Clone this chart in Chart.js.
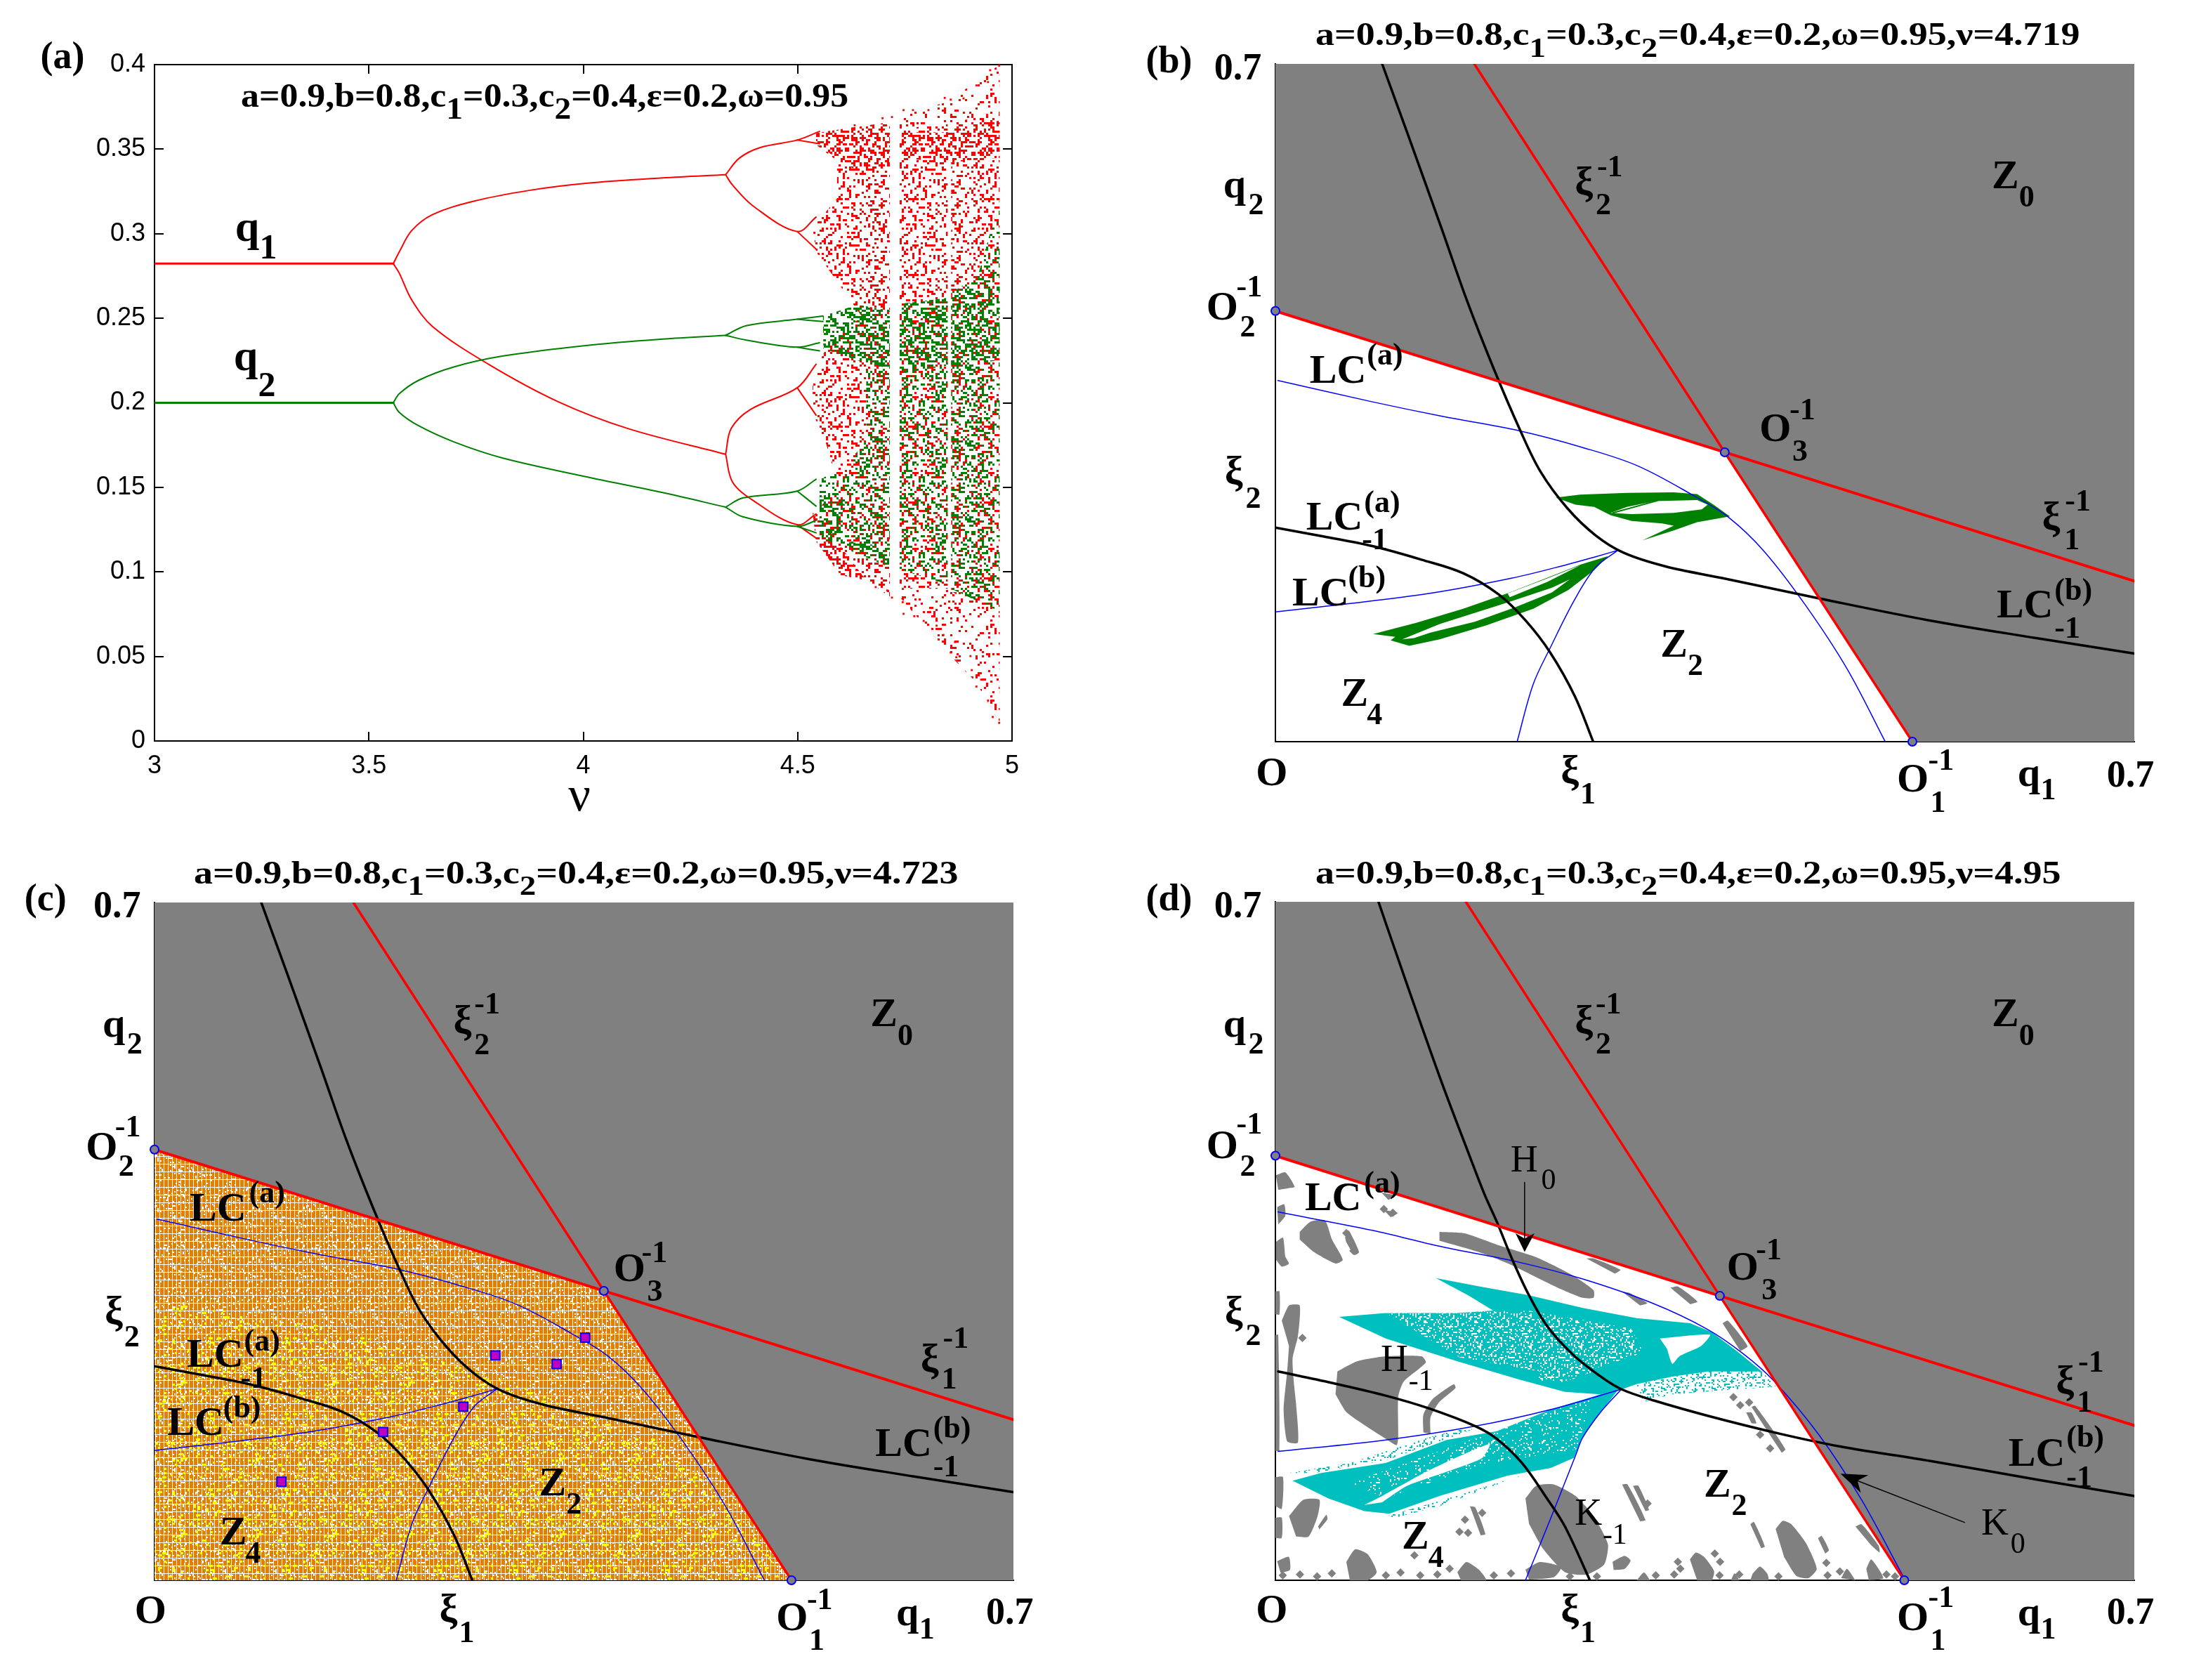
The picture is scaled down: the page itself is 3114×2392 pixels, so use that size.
<!DOCTYPE html>
<html lang="en">
<head>
<meta charset="UTF-8">
<title>Bifurcation diagram and critical curves</title>
<script src="https://cdn.jsdelivr.net/npm/chart.js@4.4.1/dist/chart.umd.min.js"></script>
<style>
  html, body { margin: 0; background: #fff; }
  #page { position: relative; width: 3114px; height: 2392px; overflow: hidden; background: #fff; }
  canvas { position: absolute; }
  .t { position: absolute; white-space: nowrap; font-family: "Liberation Serif", serif; font-weight: bold; line-height: 1; color: #000; transform-origin: left center; }
  .n { font-weight: normal; }
</style>
</head>
<body>
<div id="page">
  <canvas id="panelA" width="1557" height="1196" style="left:0;top:0"></canvas>
  <canvas id="panelB" width="1557" height="1196" style="left:1557px;top:0"></canvas>
  <canvas id="panelC" width="1557" height="1196" style="left:0;top:1196px"></canvas>
  <canvas id="panelD" width="1557" height="1196" style="left:1557px;top:1196px"></canvas>
</div>
<script>
// ---- panel (a): ticks
const xTicksA = [3, 3.5, 4, 4.5, 5];
const yTicksA = [0, 0.05, 0.1, 0.15, 0.2, 0.25, 0.3, 0.35, 0.4];

// ---- panel (a): branches of the diagram, [nu, value]
const q1Stem = [[3,.2823],[3.557,.2823]];
const q1Upper = [[3.557,.2823],[3.571,.2893],[3.6,.3019],[3.649,.3114],[3.746,.3193],[3.876,.3257],[4.006,.3298],[4.185,.333],[4.332,.3349]];
const q1Lower = [[3.557,.2823],[3.571,.2766],[3.6,.2608],[3.649,.245],[3.779,.2228],[3.941,.2007],[4.104,.1848],[4.332,.1696]];
const q1Split = [
  [[4.332,.3349],[4.364,.3447],[4.413,.351],[4.499,.3554],[4.551,.3605]],
  [[4.499,.3554],[4.551,.3532]],
  [[4.332,.3349],[4.348,.3288],[4.397,.3162],[4.499,.3013],[4.543,.3098]],
  [[4.499,.3013],[4.543,.2909]],
  [[4.332,.1696],[4.345,.1848],[4.389,.1959],[4.499,.2089],[4.543,.2228]],
  [[4.499,.2089],[4.543,.1927]],
  [[4.332,.1696],[4.348,.1532],[4.397,.1421],[4.499,.1279],[4.543,.1342]],
  [[4.499,.1279],[4.543,.12]]
];
const q2Stem = [[3,.2],[3.557,.2]];
const q2Upper = [[3.557,.2],[3.571,.2054],[3.616,.2133],[3.698,.2212],[3.811,.2276],[4.006,.2339],[4.185,.2377],[4.332,.2399]];
const q2Lower = [[3.557,.2],[3.571,.1943],[3.616,.1864],[3.698,.1769],[3.811,.1674],[4.006,.1563],[4.185,.1469],[4.332,.1383]];
const q2Split = [
  [[4.332,.2399],[4.38,.2456],[4.499,.2494],[4.559,.2513]],
  [[4.499,.2494],[4.559,.2481]],
  [[4.332,.2399],[4.38,.2371],[4.499,.2329],[4.551,.2355]],
  [[4.499,.2329],[4.551,.2307]],
  [[4.332,.1383],[4.372,.1437],[4.499,.1478],[4.543,.1548]],
  [[4.499,.1478],[4.543,.1389]],
  [[4.332,.1383],[4.372,.1326],[4.499,.1269],[4.543,.1304]],
  [[4.499,.1269],[4.543,.1231]]
];

// ---- panel (a): outlines of the chaotic bands
const redBandA = [[4.543,.3595],[4.624,.3627],[4.715,.3659],[4.715,.0851],[4.624,.1025],[4.543,.12],[4.543,.1342],[4.592,.1532],[4.567,.1753],[4.535,.1943],[4.535,.2165],[4.567,.2323],[4.649,.2513],[4.543,.2893],[4.535,.3035],[4.592,.3209],[4.592,.3431],[4.543,.3526]];
const redBandB = [[4.738,.37],[4.82,.3731],[4.85,.378],[4.85,.054],[4.82,.0614],[4.738,.0851]];
const redBandC = [[4.858,.379],[4.917,.3842],[4.971,.4],[4.971,.0108],[4.917,.0345],[4.858,.05]];
const redDense = [
  [[4.543,.3595],[4.624,.3627],[4.715,.36],[4.715,.3395],[4.65,.335],[4.592,.345],[4.543,.3526]],
  [[4.738,.36],[4.85,.36],[4.971,.367],[4.971,.345],[4.85,.342],[4.738,.345]],
  [[4.535,.135],[4.56,.13],[4.6,.115],[4.66,.095],[4.6,.098],[4.543,.118]]
];
const redTails = [
  [[4.738,.09],[4.85,.09],[4.971,.07],[4.971,.0108],[4.917,.0345],[4.82,.0614],[4.738,.0851]],
  [[4.738,.37],[4.85,.378],[4.971,.4],[4.971,.372],[4.85,.365],[4.738,.362]]
];
const redStrays = [[4.682,.091],[4.709,.089],[4.72,.0848],[4.745,.0821],[4.747,.0752],[4.772,.0738],[4.794,.071],[4.824,.0682],[4.84,.0627],[4.857,.0523],[4.87,.0495],[4.903,.0502],[4.917,.0322],[4.928,.0363],[4.944,.0239],[4.955,.0142],[4.97,.0107],[4.906,.0419],[4.867,.0585],[4.824,.0724],[4.843,.3803],[4.857,.3793],[4.887,.38],[4.917,.3877],[4.944,.3897],[4.949,.3967],[4.97,.3994],[4.805,.3731],[4.747,.3731],[4.769,.3731],[4.698,.3683],[4.72,.369],[4.633,.3641]];
const greenBandA = [[4.66,.22],[4.715,.22],[4.715,.1027],[4.551,.121],[4.551,.155],[4.605,.16],[4.66,.178]];
const greenBandB = [[4.738,.2585],[4.85,.262],[4.85,.0925],[4.738,.1015]];
const greenBandC = [[4.858,.265],[4.92,.275],[4.971,.32],[4.971,.0765],[4.858,.09]];
const greenDense = [
  [[4.559,.2513],[4.64,.258],[4.715,.2545],[4.715,.22],[4.64,.225],[4.56,.232]],
  [[4.738,.2585],[4.85,.262],[4.85,.222],[4.738,.217]],
  [[4.858,.263],[4.971,.27],[4.971,.225],[4.858,.222]],
  [[4.551,.145],[4.61,.14],[4.61,.118],[4.715,.115],[4.715,.1027],[4.6,.115],[4.551,.121]]
];

// ---- panels (b) and (c): critical curves, [q1, q2]
const zoneOuterB = [[0,.4448],[.3662,.2989],[.5191,0],[.7,0],[.7,.7],[0,.7]];
const zoneInnerB = [[0,0],[0,.4448],[.3662,.2989],[.5191,0]];
const xi1InvB = [[0,.4448],[.3662,.2989],[.7,.1658]];
const xi2InvB = [[.1621,.7],[.3662,.2989],[.5191,0]];
const lcm1UpperB = [[.087,.7],[.108,.627],[.136,.528],[.156,.456],[.178,.385],[.199,.323],[.216,.279],[.238,.241],[.261,.213],[.284,.195],[.318,.181],[.364,.169],[.443,.148],[.534,.125],[.62,.107],[.7,.091]];
const lcm1LowerB = [[0,.221],[.039,.212],[.079,.202],[.119,.188],[.153,.174],[.182,.152],[.204,.125],[.224,.092],[.244,.047],[.259,0]];
const lcaB = [[.002,.373],[.079,.351],[.136,.336],[.199,.321],[.25,.304],[.295,.285],[.341,.254],[.369,.232],[.398,.197],[.432,.141],[.466,.075],[.497,0]];
const lcbLeftB = [[0,.134],[.056,.142],[.125,.153],[.193,.169],[.238,.183],[.261,.191],[.2792,.1977]];
const lcbRightB = [[.2792,.1977],[.261,.18],[.244,.147],[.224,.097],[.21,.059],[.197,0]];
const corners = [[0,.4448],[.3662,.2989],[.5191,0]];

const attractorUpperB = [[.2283,.252],[.2483,.2552],[.2865,.2569],[.3246,.2576],[.3437,.2557],[.357,.2448],[.3704,.2327],[.3437,.2267],[.3246,.2182],[.2989,.2078],[.3246,.223],[.3151,.2255],[.2903,.2279],[.2731,.2339],[.2598,.2424],[.2445,.2448]];
const attractorUpperHoleB = [[.2731,.2363],[.2865,.2424],[.3094,.2484],[.3437,.2496],[.3523,.2448],[.3475,.24],[.3246,.2363],[.2903,.2351]];
const attractorUpperStrandB = [[.275,.2363],[.3113,.2489]];
const attractorLowerB = [[.0796,.1111],[.1148,.1227],[.153,.1373],[.1911,.1542],[.2493,.1832],[.2712,.1916],[.2598,.1771],[.2388,.1566],[.2102,.1373],[.1721,.1203],[.1339,.1058],[.1091,.099],[.0939,.1046],[.0977,.1082]];
const attractorLowerHolesB = [
  [[.1034,.1058],[.1339,.1215],[.1911,.1445],[.2254,.159],[.2398,.1675],[.2254,.1542],[.1949,.1385],[.1625,.1239],[.1263,.1126],[.113,.107]],
  [[.1892,.153],[.2216,.1687],[.2483,.182],[.2216,.1651],[.1911,.1493]]
];

// ---- panel (c): cycle points and the yellow part of the basin
const cyclePointsC = [[.1034,.1018],[.1863,.1532],[.2516,.1792],[.2778,.2323],[.3277,.2234],[.351,.2505]];
const yellowZoneC = [[0,.29],[.15,.26],[.3,.2],[.42,.14],[.5,.03],[.51,0],[0,0]];

// ---- panel (d): critical curves
const zoneOuterD = [[0,.438],[.3622,.2934],[.5125,0],[.7,0],[.7,.7],[0,.7]];
const xi1InvD = [[0,.438],[.3622,.2934],[.7,.1597]];
const xi2InvD = [[.1552,.7],[.3622,.2934],[.5125,0]];
const lcm1UpperD = [[.084,.7],[.108,.612],[.136,.512],[.1576,.44],[.1702,.3988],[.1804,.37],[.1936,.3294],[.2067,.294],[.2213,.2626],[.2417,.2337],[.2651,.2102],[.282,.1971],[.3089,.1853],[.3527,.1696],[.4111,.1512],[.4602,.1381],[.534,.123],[.62,.104],[.7,.087]];
const lcm1LowerD = [[.0023,.2154],[.0461,.2036],[.0899,.1905],[.1249,.1774],[.1629,.159],[.1804,.146],[.2009,.1211],[.2213,.0844],[.2359,.0556],[.2563,0]];
const lcaD = [[.002,.38],[.079,.361],[.136,.344],[.199,.328],[.25,.311],[.307,.286],[.352,.259],[.381,.234],[.406,.206],[.443,.15],[.477,.0845],[.5125,.002]];
const lcbLeftD = [[.0023,.1329],[.0899,.1447],[.1629,.159],[.2242,.1761],[.282,.1971]];
const lcbRightD = [[.282,.1971],[.2651,.1735],[.2505,.1473],[.2447,.129],[.2242,.0634],[.2038,0]];
const cornersD = [[0,.438],[.3622,.2934],[.5125,0]];

// ---- panel (d): attractor wings
const wingUpperD = [[.1308,.3118],[.1658,.3032],[.2067,.294],[.2505,.2809],[.2943,.2704],[.3381,.2652],[.3556,.256],[.3761,.2364],[.3965,.2154],[.379,.2154],[.3527,.2154],[.3235,.2102],[.2943,.2023],[.2826,.1971],[.2651,.1918],[.2359,.1944],[.1979,.2075],[.1483,.2259],[.0899,.2495],[.0519,.2717],[.0899,.2757],[.1483,.2757],[.1775,.2783],[.1571,.294]];
const wingUpperNotchD = [[.3133,.2495],[.3542,.2534],[.3469,.2416],[.3293,.2311],[.3235,.2233],[.3191,.239]];
const wingUpperSliverD = [[.2125,.2102],[.2242,.2206],[.2447,.2285],[.2593,.2154],[.2534,.2128],[.2359,.2049],[.2184,.2049]];
const wingSpeckD = [[.0899,.2757],[.2067,.278],[.29,.26],[.3,.235],[.24,.21],[.15,.23]];
const wingSprayD = [[.2943,.2023],[.3235,.2154],[.3819,.2167],[.3965,.2154],[.4082,.1997],[.3761,.1971],[.3235,.1918],[.3001,.184]];
const wingLowerD = [[.014,.1027],[.0373,.1106],[.0899,.1211],[.1395,.1447],[.1804,.1538],[.2242,.176],[.2651,.1918],[.2797,.1971],[.2651,.1735],[.2505,.1473],[.2432,.1263],[.2242,.1158],[.2067,.1119],[.1892,.108],[.1337,.087],[.0928,.0687],[.0724,.0713],[.0432,.0844]];
const wingLowerSlitD = [[.0724,.0778],[.087,.087],[.1249,.1132],[.1746,.1407],[.1687,.1263],[.1483,.1158],[.1074,.0975],[.087,.0805]];
const wingLowerSprayD = [[.0111,.1106],[.0607,.121],[.1249,.1473],[.16,.159],[.16,.155],[.0899,.1237],[.0315,.1106]];
const wingLowerSpray2D = [[.09,.066],[.1337,.0818],[.2067,.1106],[.1921,.1041],[.1337,.0765],[.0987,.0648]];
const wingLowerSpeckD = [[.06,.1],[.17,.15],[.26,.19],[.245,.135],[.17,.12],[.09,.085]];

// ---- panel (d): gray holes of the basin
const holesD = [
  [[.1337,.3595],[.1541,.358],[.1833,.3451],[.2125,.3333],[.2417,.315],[.2593,.2992],[.2593,.2914],[.2505,.2914],[.2301,.3019],[.1921,.3254],[.1658,.3385],[.1337,.3503]],
  [[.0505,.2154],[.0665,.2259],[.0899,.2311],[.1191,.2311],[.1226,.2246],[.1045,.2049],[.1001,.1892],[.1001,.1473],[.0987,.1394],[.0899,.146],[.0753,.1578],[.0578,.1735],[.049,.1918]],
  [[.2038,.0844],[.2125,.0975],[.2271,.0988],[.2447,.087],[.2593,.0661],[.271,.0372],[.268,.0163],[.2534,.0058],[.2359,.0084],[.2184,.032],[.2067,.0582]],
  [[.0198,.3595],[.0286,.37],[.0403,.3713],[.0461,.3516],[.0549,.3307],[.049,.3268],[.0315,.3385],[.0198,.3516]],
  [[.0052,.2678],[.0111,.2835],[.0198,.2835],[.0184,.2521],[.014,.2285],[.0154,.1997],[.0169,.1813],[.0184,.142],[.0096,.1433],[.0067,.1761],[.0096,.2154],[.0111,.2416]],
  [[.1206,.1525],[.1206,.1709],[.1279,.1866],[.1454,.2023],[.1468,.1984],[.1337,.184],[.1264,.1682],[.1264,.1512]],
  [[.0111,.0661],[.0227,.083],[.0359,.083],[.0344,.0661],[.0271,.0451],[.0169,.0451]],
  [[.0578,.0189],[.0651,.032],[.0753,.0268],[.0826,.0084],[.0753,0],[.0607,0]],
  [[.1483,.0084],[.1556,.0189],[.1658,.011],[.1717,0],[.1512,0]],
  [[.1585,.0765],[.1629,.0752],[.1711,.0477],[.1673,.0464]],
  [[.2826,.0988],[.287,.0988],[.3016,.0621],[.2972,.0608]],
  [[.2914,.0975],[.2958,.0975],[.3045,.0726],[.3016,.0713]],
  [[.2038,.011],[.2155,.0189],[.233,.0137],[.2271,.0032],[.2067,.0006]],
  [[.388,.1788],[.391,.18],[.4156,.1352],[.4127,.1316]],
  [[.4077,.0529],[.4136,.0614],[.4205,.0578],[.4324,.0384],[.4412,.0118],[.4343,.0021],[.4245,.0046],[.4146,.0239]],
  [[.3378,.0215],[.3427,.0287],[.3496,.0239],[.3575,.0094],[.3555,0],[.3437,0]],
  [[.3871,.0578],[.39,.0602],[.3989,.0348],[.3959,.0331]],
  [[.4727,.0554],[.4777,.0578],[.4915,.036],[.4924,.0287],[.4856,.036]],
  [[.4422,.0433],[.4452,.0457],[.4511,.0312],[.4481,.0275]],
  [[.461,.0021],[.4658,.0118],[.4727,0]],
  [[.4816,.0118],[.4856,.0215],[.4954,.0021],[.4836,0]],
  [[.389,.007],[.3949,.0142],[.4008,.007],[.4018,0],[.387,0]],
  [[.2748,.0191],[.2846,.0251],[.2895,.0203],[.2846,.0118],[.2757,.0106]],
  [[.2945,0],[.3004,.0082],[.3053,0]],
  [[.3713,0],[.3742,.007],[.3782,0]],
  [[.2534,.332],[.2593,.332],[.2812,.3202],[.2768,.3163]],
  [[.322,.3019],[.3279,.3032],[.3439,.2875],[.3381,.2848]],
  [[.2826,.2979],[.2885,.2966],[.3031,.2861],[.2972,.2835]],
  [[.3644,.2652],[.3688,.2678],[.3848,.2416],[.379,.2364]],
  [[.0004,.4179],[.0081,.4209],[.0157,.4059],[.01,.4044],[.0023,.4029]],
  [[.0014,.385],[.0071,.388],[.0081,.376],[.0023,.367]],
  [[.0004,.349],[.0062,.3535],[.0081,.334],[.011,.3266],[.0052,.3236],[.0004,.331]],
  [[.0568,.3535],[.0596,.361],[.0682,.3385],[.0644,.3355],[.0577,.349]],
  [[.0883,.382],[.0997,.379],[.094,.3745]],
  [[.0864,.4],[.0978,.397],[.0921,.3924]],
  [[0,.2532],[.0023,.2532],[.0033,.1335],[0,.1335]],
  [[0,.2981],[.0033,.2981],[.0033,.2742],[0,.2742]],
  [[0,.1065],[.0062,.1065],[.0052,.0736],[0,.0766]],
  [[0,.0646],[.0052,.0646],[.0052,.0436],[0,.0436]],
  [[.0014,.0197],[.0109,.0242],[.0119,.0107],[.0042,.0077]],
  [[.0348,.0556],[.0415,.0676],[.0424,.0631],[.0358,.0526]],
  [[.3837,.173],[.388,.173],[.392,.162],[.388,.162]]
];
const holeDotsD = [
  [.006,.005],[.02,.006],[.034,.004],[.046,.007],[.09,.005],[.102,.008],[.118,.005],[.132,.006],[.142,.012],[.178,.005],[.192,.007],[.24,.004],[.262,.004],[.31,.005],[.325,.006],[.362,.005],[.378,.006],[.41,.004],[.45,.005],[.46,.009],[.498,.006],[.505,.004],
  [.1133,.0257],[.3733,.189],[.3788,.1807],[.3861,.1836],[.395,.1502],[.4032,.136],[.3033,.0791],[.3581,.0275],[.3624,.0191],[.328,.0191],[.33,.012],[.449,.018],[.0884,.383],[.0957,.3792],[.0578,.3582],[.0636,.3398],[.022,.25],[.1685,.0695],[.1545,.0625],[.157,.049],[.15,.05]
];

// ---- panel (d): arrows
const arrowH0Line = [[.2031,.4105],[.2031,.35]];
const arrowH0Head = [[.2031,.3387],[.1957,.358],[.2031,.3525],[.2111,.358]];
const arrowK0Line = [[.5616,.0597],[.4743,.1027]];
const arrowK0Head = [[.4605,.1099],[.4833,.1085],[.4743,.1027],[.4771,.0903]];

// ---- speckle tile, one character per cell
const speckleRows = [
  "x..x....x.x...x..xx...x....x..x...x.",
  "..xx..x.....x....x..x....xx.....x...",
  "x.....xx..x...xx.....x.x.....x.....x",
  ".x..x......x.....x.x.....x..xx..x...",
  "....xx.x.....xx.....xx.....x.....xx.",
  "x.........x.x....x.....x.x....x.....",
  "..x.x..xx.....x.....x......x....x.x.",
  ".x.....x...x.....xx...x.x.....x.....",
  "...xx.....x..x.x.....x.....xx....x..",
  "x.......x.....x...x....xx.......x..x",
  "..x..xx....x.....x..x......x.x......",
  ".....x..x.....xx.........x....x..xx.",
  ".xx.......x.x.....x.xx.....x.....x..",
  "....x.x.......x.x.......x.....xx....",
  "x.......xx..x......x..x...x.x.....x.",
  "...x.x.....x...xx.....x........x....",
  ".x......x.....x.....x...xx..x....x.x",
  "...xx.....xx.....x.x.......x..x.....",
  "x.....x.x....x.........x.x......xx..",
  "..x.......x....x.xx.....x...x.......",
  ".....xx.x....x.......x.....x...x..x.",
  ".x.x........x...x.x....xx.......x...",
  "......x..xx....x....x.......xx.....x",
  "x..x.....x...x.....x...x.x......x...",
  "....x.xx.......xx.....x.....x.x.....",
  ".x........x.x.......x....xx.....xx..",
  "...xx..x......x..x....x......x.....x",
  "x.......x..xx.....x......x.x....x...",
  "..x..x.......x.x.....xx.......x...x.",
  ".....x.xx........x.x.....x.x.....x..",
  ".xx.......x.x.x.......x.......xx....",
  "....x.x.......x..xx.....x.x.......x.",
  "x.......xx.x.......x.x.......x.x....",
  "..x.x........xx.......x..xx.......x.",
  ".....x.x..x......x.x........x.x.....",
  ".x.......x...x.x......xx.x.......x.x"
];
</script>
<script>
const page = document.getElementById('page');

// rows and columns are stepped through out of order so the tile doesn't show diagonals;
// a second stepping keeps two colours from landing on the same cells
function makeSpeckle(color, mode, cell, alt) {
  const n = speckleRows.length;
  const rowStep = alt ? 11 : 5, colStep = alt ? 13 : 7;
  const on = (i, j) => speckleRows[(j * rowStep) % n][(i * colStep) % n] === 'x';
  const tile = document.createElement('canvas');
  tile.width = tile.height = n * cell;
  const c = tile.getContext('2d');
  c.fillStyle = color;
  for (let j = 0; j < n; j++) {
    for (let i = 0; i < n; i++) {
      const a = on(i, j), b = on(n - 1 - i, n - 1 - j);
      if (mode === 'dense' ? (a || b) : mode === 'thin' ? (a && (b || on(j, i))) : a) {
        c.fillRect(i * cell, j * cell, cell, cell);
      }
    }
  }
  return c.createPattern(tile, 'repeat');
}

function makeHatch() {
  const tile = document.createElement('canvas');
  tile.width = 6; tile.height = 11;
  const c = tile.getContext('2d');
  c.fillStyle = '#fff';
  c.fillRect(0, 0, 6, 11);
  c.fillStyle = '#df8000';
  c.fillRect(0, 0, 5, 10);
  return c.createPattern(tile, 'repeat');
}

const toPts = arr => arr.map(p => ({x: p[0], y: p[1]}));
const poly = (arr, color, tension) => ({data: toPts(arr), showLine: true, fill: 'shape', backgroundColor: color, borderWidth: 0, pointRadius: 0, tension: tension || 0});
const line = (arr, color, width, tension) => ({data: toPts(arr), showLine: true, fill: false, borderColor: color, borderWidth: width, pointRadius: 0, tension: tension === undefined ? 0.35 : tension, borderCapStyle: 'round', borderJoinStyle: 'round'});
const marks = (arr, style, radius, fillCol, edge, edgeWidth) => ({data: toPts(arr), showLine: false, pointStyle: style, pointRadius: radius, backgroundColor: fillCol, borderColor: edge, borderWidth: edgeWidth, clip: false});

// later entries are drawn on top
function stack(list) {
  list.forEach((d, i) => { d.order = list.length - i; });
  return list;
}

function makeChart(id, area, datasets, scales) {
  const W = 1557, H = 1196;
  Object.values(scales).forEach(s => {
    const side = s.position;
    if (side === 'left') s.afterFit = a => { a.width = area.left; };
    if (side === 'bottom') s.afterFit = a => { a.height = H - area.bottom; };
    if (side === 'top' || side === 'right') s.afterFit = a => { if (side === 'top') a.height = 0; else a.width = 0; };
  });
  return new Chart(document.getElementById(id), {
    type: 'scatter',
    data: {datasets: stack(datasets)},
    options: {
      responsive: false,
      animation: false,
      events: [],
      layout: {padding: {left: 0, bottom: 0, top: area.top, right: W - area.right}},
      plugins: {legend: {display: false}, tooltip: {enabled: false}},
      scales
    }
  });
}

function plainScale(position) {
  return {type: 'linear', position, min: 0, max: 0.7, ticks: {display: false}, grid: {display: false}, border: {display: true, color: '#000', width: 2}};
}

const tickFont = {family: '"Liberation Sans", Arial, sans-serif', size: 36};
function tickScale(position, min, max, values, labelled, pad) {
  return {
    type: 'linear', position, min, max,
    afterBuildTicks: s => { s.ticks = values.map(v => ({value: v})); },
    ticks: {display: labelled, autoSkip: false, maxRotation: 0, color: '#000', font: tickFont, padding: pad, callback: v => String(v)},
    grid: {drawOnChartArea: false, drawTicks: true, tickLength: -13, lineWidth: 2, color: '#000'},
    border: {display: true, color: '#000', width: 2}
  };
}

// ---- panel (a)
const redS = makeSpeckle('#ff0000', 'normal', 3), redD = makeSpeckle('#ff0000', 'dense', 3), redT = makeSpeckle('#ff0000', 'thin', 3);
const greenS = makeSpeckle('#008000', 'normal', 3, true), greenD = makeSpeckle('#008000', 'dense', 3, true);
const red = '#ff0000', green = '#008000';
makeChart('panelA', {left: 220, right: 1441, top: 92, bottom: 1055}, [
  poly(redBandA, redS), poly(redBandB, redS), poly(redBandC, redS),
  ...redDense.map(b => poly(b, redD)),
  ...redTails.map(b => poly(b, '#fff')),
  ...redTails.map(b => poly(b, redT)),
  marks(redStrays, 'rect', 2, red, red, 0),
  line(q1Stem, red, 3, 0), line(q1Upper, red, 2), line(q1Lower, red, 2),
  ...q1Split.map(b => line(b, red, 2)),
  poly(greenBandA, greenS), poly(greenBandB, greenS), poly(greenBandC, greenS),
  ...greenDense.map(b => poly(b, greenD)),
  line(q2Stem, green, 3, 0), line(q2Upper, green, 2), line(q2Lower, green, 2),
  ...q2Split.map(b => line(b, green, 2))
], {
  x: tickScale('bottom', 3, 5, xTicksA, true, 27),
  y: tickScale('left', 0, 0.4, yTicksA, true, 26),
  x2: tickScale('top', 3, 5, xTicksA, false, 0),
  y2: tickScale('right', 0, 0.4, yTicksA, false, 0)
});

// ---- panels (b), (c), (d)
const gray = '#808080', blue = '#0000ff', cyan = '#00bfbf';
function curveSet(xi1, xi2, upper, lower, lca, lcbL, lcbR) {
  return [
    line(lca, blue, 1.5), line(lcbL, blue, 1.5), line(lcbR, blue, 1.5),
    line(upper, '#000', 3.5), line(lower, '#000', 3.5),
    line(xi2, red, 3.5, 0), line(xi1, red, 4, 0)
  ];
}

makeChart('panelB', {left: 259, right: 1482, top: 91, bottom: 1056}, [
  poly(zoneOuterB, gray),
  poly(attractorUpperB, green), poly(attractorUpperHoleB, '#fff'), line(attractorUpperStrandB, green, 2, 0),
  poly(attractorLowerB, green), ...attractorLowerHolesB.map(h => poly(h, '#fff')),
  ...curveSet(xi1InvB, xi2InvB, lcm1UpperB, lcm1LowerB, lcaB, lcbLeftB, lcbRightB),
  marks(corners, 'circle', 6, gray, blue, 2)
], {x: plainScale('bottom'), y: plainScale('left')});

makeChart('panelC', {left: 220, right: 1443, top: 89, bottom: 1054}, [
  poly(zoneOuterB, gray),
  poly(zoneInnerB, makeHatch()),
  poly(zoneInnerB, makeSpeckle('#ffffff', 'thin', 2)),
  poly(yellowZoneC, makeSpeckle('#ffff00', 'thin', 3, true)),
  ...curveSet(xi1InvB, xi2InvB, lcm1UpperB, lcm1LowerB, lcaB, lcbLeftB, lcbRightB),
  marks(cyclePointsC, 'rect', 9, '#bf00bf', blue, 2),
  marks(corners, 'circle', 6, gray, blue, 2)
], {x: plainScale('bottom'), y: plainScale('left')});

const cyanS = makeSpeckle(cyan, 'normal', 2);
const whiteS = makeSpeckle('#ffffff', 'normal', 2);
const whiteT = makeSpeckle('#ffffff', 'thin', 2);
makeChart('panelD', {left: 259, right: 1482, top: 88, bottom: 1054}, [
  poly(zoneOuterD, gray),
  ...holesD.map(h => poly(h, gray, 0.2)),
  marks(holeDotsD, 'rectRot', 6, gray, gray, 0),
  poly(wingSprayD, cyanS), poly(wingLowerSprayD, cyanS), poly(wingLowerSpray2D, cyanS),
  poly(wingUpperD, cyan), poly(wingLowerD, cyan),
  poly(wingSpeckD, whiteS), poly(wingLowerSpeckD, whiteT),
  poly(wingUpperNotchD, '#fff', 0.2), poly(wingUpperSliverD, whiteS, 0.2), poly(wingLowerSlitD, '#fff', 0.2),
  ...curveSet(xi1InvD, xi2InvD, lcm1UpperD, lcm1LowerD, lcaD, lcbLeftD, lcbRightD),
  line(arrowH0Line, '#000', 1.5, 0), poly(arrowH0Head, '#000'),
  line(arrowK0Line, '#000', 1.5, 0), poly(arrowK0Head, '#000'),
  marks(cornersD, 'circle', 6, gray, blue, 2)
], {x: plainScale('bottom'), y: plainScale('left')});

// ---- text: the zoom coordinates of each panel go through its origin
const FX = 0.993, FY = 0.7618;
function text(ox, oy, zx, zy, str, size, normal) {
  const el = document.createElement('span');
  el.className = normal ? 't n' : 't';
  el.textContent = str;
  el.style.fontSize = size + 'px';
  el.style.left = (ox + zx * FX) + 'px';
  el.style.top = (oy + zy * FY - 0.8375 * size) + 'px';
  page.appendChild(el);
  return el;
}
// [base, x, y, sub, subx, suby, sup, supx, supy]
function mathLabels(ox, oy, list, size, subSize, normal) {
  list.forEach(l => {
    text(ox, oy, l[1], l[2], l[0], size, normal);
    if (l[3]) text(ox, oy, l[4], l[5], l[3], subSize, normal);
    if (l[6]) text(ox, oy, l[7], l[8], l[6], subSize, normal);
  });
}
function heading(ox, oy, zx, zy, size, subSize, stretch, parts) {
  const el = text(ox, oy, zx, zy, '', size);
  el.style.transform = 'scaleX(' + stretch + ')';
  parts.forEach(p => {
    if (p[0] === '_') {
      const s = document.createElement('span');
      s.textContent = p.slice(1);
      s.style.cssText = 'font-size:' + subSize + 'px;position:relative;top:' + (0.36 * size) + 'px';
      el.appendChild(s);
    } else {
      el.appendChild(document.createTextNode(p));
    }
  });
  return el;
}
const headParts = ['a=0.9,b=0.8,c', '_1', '=0.3,c', '_2', '=0.4,ε=0.2,ω=0.95'];

// (a)
text(0, 0, 58, 128, '(a)', 54);
heading(0, 0, 345, 200, 48, 44, 1.08, headParts);
mathLabels(0, 0, [['q', 337, 450, '1', 372, 483], ['q', 335, 692, '2', 370, 740]], 62, 50);
text(0, 0, 815, 1515, 'ν', 70, true);

// (b)
mathLabels(1557, 0, [
  ['q', 186, 370, '2', 222, 402], ['O', 162, 598, '2', 210, 630, '-1', 205, 555],
  ['LC', 310, 716, '', 0, 0, '(a)', 392, 682], ['ξ', 188, 905, '2', 218, 950],
  ['LC', 305, 990, '-1', 385, 1028, '(a)', 388, 958], ['LC', 285, 1132, '', 0, 0, '(b)', 365, 1098],
  ['Z', 355, 1320, '4', 392, 1355], ['Z', 813, 1228, '2', 852, 1263], ['Z', 1288, 352, '0', 1327, 387],
  ['ξ', 690, 365, '2', 720, 402, '-1', 722, 330], ['O', 955, 825, '3', 1002, 862, '-1', 998, 785],
  ['ξ', 1360, 990, '1', 1392, 1027, '-1', 1393, 955], ['LC', 1295, 1155, '-1', 1378, 1193, '(b)', 1378, 1122],
  ['O', 233, 1468], ['ξ', 670, 1465, '1', 698, 1503], ['O', 1152, 1480, '1', 1200, 1518, '-1', 1197, 1440],
  ['q', 1325, 1470, '1', 1358, 1495]
], 58, 44);
text(1557, 0, 75, 135, '(b)', 54);
text(1557, 0, 173, 148, '0.7', 54);
text(1557, 0, 1453, 1470, '0.7', 54);
heading(1557, 0, 318, 85, 46, 40, 1.174, ['a=0.9,b=0.8,c', '_1', '=0.3,c', '_2', '=0.4,ε=0.2,ω=0.95,ν=4.719']);

// (c)
mathLabels(0, 1196, [
  ['q', 147, 368, '2', 182, 400], ['O', 123, 598, '2', 170, 628, '-1', 165, 555],
  ['LC', 272, 712, '', 0, 0, '(a)', 357, 678], ['ξ', 150, 905, '2', 178, 948],
  ['LC', 268, 985, '-1', 345, 1025, '(a)', 350, 955], ['LC', 240, 1113, '', 0, 0, '(b)', 320, 1080],
  ['Z', 315, 1318, '4', 352, 1352], ['Z', 773, 1225, '2', 812, 1260], ['Z', 1248, 348, '0', 1287, 385],
  ['ξ', 650, 362, '2', 680, 402, '-1', 680, 325], ['O', 880, 825, '3', 928, 862, '-1', 920, 790],
  ['ξ', 1320, 995, '1', 1350, 1026, '-1', 1352, 950], ['LC', 1255, 1152, '-1', 1338, 1190, '(b)', 1338, 1118],
  ['O', 193, 1465], ['ξ', 630, 1462, '1', 658, 1500], ['O', 1113, 1478, '1', 1160, 1515, '-1', 1157, 1438],
  ['q', 1285, 1468, '1', 1318, 1493]
], 58, 44);
text(0, 1196, 35, 132, '(c)', 54);
text(0, 1196, 134, 145, '0.7', 54);
text(0, 1196, 1414, 1465, '0.7', 54);
heading(0, 1196, 278, 82, 46, 40, 1.174, ['a=0.9,b=0.8,c', '_1', '=0.3,c', '_2', '=0.4,ε=0.2,ω=0.95,ν=4.723']);

// (d)
mathLabels(1557, 1196, [
  ['q', 186, 368, '2', 222, 400], ['O', 162, 595, '2', 210, 628, '-1', 205, 550],
  ['LC', 303, 692, '', 0, 0, '(a)', 388, 660], ['ξ', 188, 905, '2', 218, 945],
  ['Z', 442, 1325, '4', 480, 1360], ['Z', 875, 1228, '2', 915, 1262], ['Z', 1288, 348, '0', 1327, 385],
  ['ξ', 690, 362, '2', 720, 400, '-1', 720, 325], ['O', 908, 822, '3', 958, 860, '-1', 950, 785],
  ['ξ', 1380, 1035, '1', 1410, 1070, '-1', 1412, 995], ['LC', 1312, 1170, '-1', 1395, 1210, '(b)', 1395, 1135],
  ['O', 233, 1463], ['ξ', 670, 1462, '1', 698, 1500], ['O', 1152, 1478, '1', 1200, 1515, '-1', 1197, 1435],
  ['q', 1325, 1468, '1', 1358, 1493]
], 58, 44);
mathLabels(1557, 1196, [
  ['H', 412, 993, '-1', 452, 1028], ['H', 598, 620, '0', 642, 652],
  ['K', 690, 1280, '-1', 730, 1315], ['K', 1273, 1298, '0', 1315, 1333]
], 54, 42, true);
text(1557, 1196, 75, 132, '(d)', 54);
text(1557, 1196, 173, 145, '0.7', 54);
text(1557, 1196, 1453, 1465, '0.7', 54);
heading(1557, 1196, 318, 82, 46, 40, 1.174, ['a=0.9,b=0.8,c', '_1', '=0.3,c', '_2', '=0.4,ε=0.2,ω=0.95,ν=4.95']);
</script>
</body>
</html>
